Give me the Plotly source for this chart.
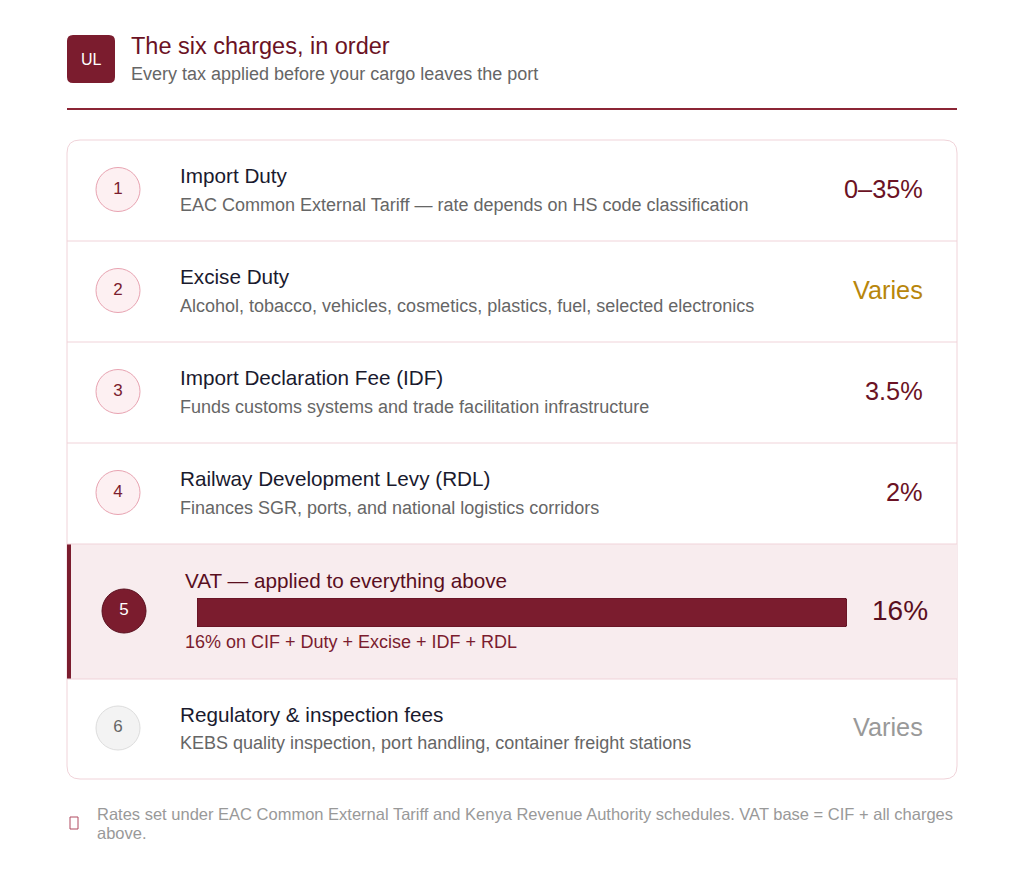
import plotly.graph_objects as go

# chart content
steps = ["1", "2", "3", "4", "5", "6"]
titles = [
    "Import Duty",
    "Excise Duty",
    "Import Declaration Fee (IDF)",
    "Railway Development Levy (RDL)",
    "VAT — applied to everything above",
    "Regulatory & inspection fees",
]
descriptions = [
    "EAC Common External Tariff — rate depends on HS code classification",
    "Alcohol, tobacco, vehicles, cosmetics, plastics, fuel, selected electronics",
    "Funds customs systems and trade facilitation infrastructure",
    "Finances SGR, ports, and national logistics corridors",
    "16% on CIF + Duty + Excise + IDF + RDL",
    "KEBS quality inspection, port handling, container freight stations",
]
rates = ["0–35%", "Varies", "3.5%", "2%", "16%", "Varies"]
vat_rate = [16]
footnote_lines = [
    "Rates set under EAC Common External Tariff and Kenya Revenue Authority schedules. "
    "VAT base = CIF + all charges",
    "above.",
]

W, H = 1024, 878
OFF = 8  # page body margin
CRIMSON = "#7b1c2e"
MAROON = "#6b1224"
rate_colors = [MAROON, "#b8860b", MAROON, MAROON, MAROON, "#999999"]

# row geometry (pixels from top of window)
row_tops = [140, 241, 342, 443, 544, 679]
row_bots = [241, 342, 443, 544, 679, 779]
card_l, card_r = 67, 957


def rounded_rect(x0, y0, x1, y1, r):
    return (f"M{x0+r},{y0} L{x1-r},{y0} Q{x1},{y0} {x1},{y0+r} "
            f"L{x1},{y1-r} Q{x1},{y1} {x1-r},{y1} L{x0+r},{y1} "
            f"Q{x0},{y1} {x0},{y1-r} L{x0},{y0+r} Q{x0},{y0} {x0+r},{y0} Z")


shapes = []
annotations = []

# header badge
shapes.append(dict(type="path", path=rounded_rect(67, 35, 115, 83, 6),
                   fillcolor=CRIMSON, line=dict(width=0), layer="below"))
annotations.append(dict(x=91, y=59, text="UL", showarrow=False,
                        font=dict(size=16, color="white")))
annotations.append(dict(x=129, y=46, text="The six charges, in order", showarrow=False,
                        xanchor="left", font=dict(size=23.5, color=MAROON)))
annotations.append(dict(x=129, y=74, text="Every tax applied before your cargo leaves the port",
                        showarrow=False, xanchor="left", font=dict(size=18, color="#666666")))
shapes.append(dict(type="line", x0=67, x1=957, y0=109, y1=109,
                   line=dict(color="#8b2535", width=2)))

# card
shapes.append(dict(type="path", path=rounded_rect(card_l, 140, card_r, 779, 13),
                   fillcolor="white", line=dict(color="#f0d3d9", width=1), layer="below"))
# highlighted VAT row
shapes.append(dict(type="rect", x0=card_l, x1=card_r, y0=544, y1=679,
                   fillcolor="#f8ecee", line=dict(width=0), layer="below"))
shapes.append(dict(type="rect", x0=card_l, x1=card_l + 4, y0=544, y1=679,
                   fillcolor=CRIMSON, line=dict(width=0), layer="below"))
for yb in row_bots[:-1]:
    shapes.append(dict(type="line", x0=card_l, x1=card_r, y0=yb, y1=yb,
                       line=dict(color="#f0d3d9", width=1), layer="below"))

circle_x, circle_y = [], []
circle_fill, circle_line, circle_text = [], [], []
for i, s in enumerate(steps):
    mid = (row_tops[i] + row_bots[i]) / 2
    if s == "5":
        cx, cy = 124, 611
        circle_fill.append(CRIMSON)
        circle_line.append("#5a0f1e")
        circle_text.append("white")
        annotations.append(dict(x=183, y=580, text=titles[i], showarrow=False, xanchor="left",
                                font=dict(size=20.7, color="#5a0f1e")))
        annotations.append(dict(x=183, y=642, text=descriptions[i], showarrow=False,
                                xanchor="left", font=dict(size=18, color=CRIMSON)))
        annotations.append(dict(x=930, y=610, text=rates[i], showarrow=False, xanchor="right",
                                font=dict(size=28, color="#5a0f1e")))
    else:
        cx, cy = 118, mid - 1
        if s == "6":
            circle_fill.append("#f3f3f3")
            circle_line.append("#dddddd")
            circle_text.append("#666666")
        else:
            circle_fill.append("#fdf0f2")
            circle_line.append("#e8a3b1")
            circle_text.append(CRIMSON)
        annotations.append(dict(x=178, y=mid - 15, text=titles[i], showarrow=False,
                                xanchor="left", font=dict(size=20.7, color="#1a1a2e")))
        annotations.append(dict(x=178, y=mid + 14, text=descriptions[i], showarrow=False,
                                xanchor="left", font=dict(size=18, color="#666666")))
        annotations.append(dict(x=925, y=mid - 2, text=rates[i], showarrow=False,
                                xanchor="right", font=dict(size=25.3, color=rate_colors[i])))
    circle_x.append(cx)
    circle_y.append(cy)

# footnote
shapes.append(dict(type="rect", x0=70, x1=78, y0=817, y1=829,
                   line=dict(color="#b04a60", width=1), fillcolor="rgba(0,0,0,0)"))
for line_y, line_text in zip([814, 833], footnote_lines):
    annotations.append(dict(x=95, y=line_y, showarrow=False, xanchor="left",
                            text=line_text, font=dict(size=16.5, color="#999999")))

fig = go.Figure()
fig.add_trace(go.Scatter(
    x=circle_x, y=circle_y, mode="markers+text", text=steps,
    textfont=dict(size=17, color=circle_text),
    marker=dict(size=44, color=circle_fill, line=dict(color=circle_line, width=1)),
    hoverinfo="skip", showlegend=False
))
fig.add_trace(go.Bar(
    x=vat_rate, y=[0], orientation="h", width=1,
    marker=dict(color=CRIMSON, line=dict(color="#5a0f1e", width=1), cornerradius=3),
    xaxis="x2", yaxis="y2", hoverinfo="skip", showlegend=False
))

FW, FH = W - OFF, H - OFF
fig.update_layout(
    width=FW, height=FH,
    margin=dict(l=0, r=0, t=0, b=0),
    paper_bgcolor="white", plot_bgcolor="rgba(0,0,0,0)",
    font=dict(family="Arial, 'Liberation Sans', sans-serif"),
    xaxis=dict(range=[OFF, W], visible=False, fixedrange=True),
    yaxis=dict(range=[H, OFF], visible=False, fixedrange=True),
    xaxis2=dict(domain=[(197 - OFF) / FW, (847 - OFF) / FW], range=[0, 16],
                visible=False, anchor="y2"),
    yaxis2=dict(domain=[(H - 627) / FH, (H - 598) / FH], range=[-0.5, 0.5],
                visible=False, anchor="x2"),
    shapes=shapes, annotations=annotations,
)

fig.write_html("out.html")
